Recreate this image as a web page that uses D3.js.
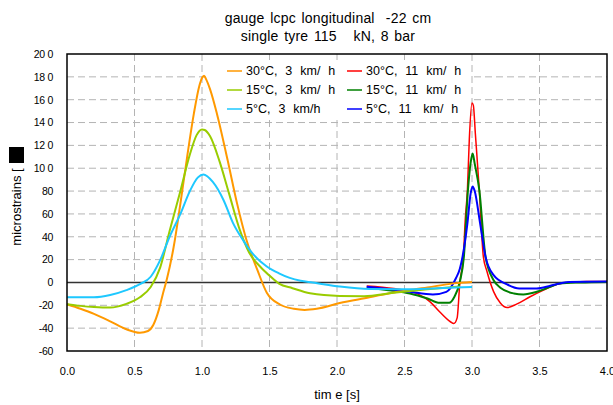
<!DOCTYPE html>
<html>
<head>
<meta charset="utf-8">
<script src="https://cdn.jsdelivr.net/npm/d3@7"></script>
<style>
  body { margin: 0; background: #fff; }
  svg { font-family: "Liberation Sans", Arial, sans-serif; }
  .grid line { stroke: #b4b4b4; stroke-width: 1; stroke-dasharray: 7,4; }
  .legend text { font-size: 12.5px; white-space: pre; word-spacing: 0.5px; }
</style>
</head>
<body>
<div id="chart"></div>
<script>
//---->DATA<-----//
const titleLines = ['gauge lcpc longitudinal  -22 cm', 'single tyre 115   kN, 8 bar'];
const xTicks = [0, 0.5, 1, 1.5, 2, 2.5, 3, 3.5, 4];
const xTickLabels = ['0.0', '0.5', '1.0', '1.5', '2.0', '2.5', '3.0', '3.5', '4.0'];
const yTicks = [-60, -40, -20, 0, 20, 40, 60, 80, 100, 120, 140, 160, 180, 200];
const yTickLabels = ['-60', '-40', '-20', '0', '20', '40', '60', '80', '10 0', '12 0', '14 0', '16 0', '18 0', '20 0'];

const seriesNames = ['30°C,  3  km/  h', '15°C,  3  km/  h', '5°C,  3  km/h',
                     '30°C,  11  km/  h', '15°C,  11  km/  h', '5°C,  11   km/  h'];
const seriesColors = ['#ff9900', '#99cc00', '#1ec8ff', '#ff0000', '#008000', '#0000ff'];

// [time s, microstrain]
const t30v3 = [[0,-19],[0.1,-23],[0.2,-27.5],[0.32,-34],[0.44,-41],[0.54,-44],[0.6,-42.5],[0.64,-37],
  [0.68,-24],[0.71,-10],[0.74,3],[0.79,31],[0.84,69],[0.89,110],[0.94,148],[0.98,172],[1.0,179],
  [1.015,181],[1.03,178],[1.06,169],[1.11,148],[1.19,107],[1.26,69],[1.33,37],[1.41,11],[1.48,-9],[1.58,-19.5],
  [1.68,-23],[1.76,-24],[1.85,-23],[2.02,-18],[2.24,-13],[2.42,-8.7],[2.67,-4.4],[2.86,-0.8],[3.0,0.5]];
const t15v3 = [[0,-19],[0.1,-20.5],[0.2,-21.5],[0.32,-22],[0.44,-18.7],[0.54,-13],[0.62,-4],[0.69,13],
  [0.76,45],[0.84,80],[0.91,112],[0.96,129],[1.0,134],[1.02,133.5],[1.06,128],[1.13,106],[1.2,78],
  [1.28,46],[1.35,26],[1.43,14],[1.5,6],[1.57,-1],[1.67,-5],[1.8,-9.5],[2.02,-11.8],[2.2,-12],
  [2.42,-9],[2.67,-6],[2.91,-3.5]];
const t5v3 = [[0,-13],[0.2,-13],[0.32,-11],[0.44,-6.7],[0.54,-1.5],[0.62,5],[0.69,19.5],[0.76,40],
  [0.84,60],[0.91,80],[0.97,92],[1.01,94.5],[1.08,88],[1.16,72],[1.23,52],[1.31,36],[1.38,24.5],
  [1.48,14],[1.57,8],[1.65,4],[1.73,1.5],[1.82,0],[2.02,-3.6],[2.24,-5.8],[2.5,-6],[2.75,-5],[3.0,-4]];
const t30v11 = [[2.22,-3],[2.42,-5.3],[2.59,-9.6],[2.69,-17],[2.76,-25.7],[2.84,-34.4],[2.865,-36],
  [2.89,-31],[2.91,0],[2.936,22.6],[2.95,55],[2.966,81],[2.98,125],[3.0,157],[3.01,155],[3.025,130],
  [3.054,81],[3.084,22.6],[3.11,10],[3.16,-8],[3.21,-18],[3.26,-22],[3.33,-19],[3.43,-12.5],
  [3.53,-6.7],[3.63,-1.7],[3.75,0.5],[3.85,0.8],[4.0,0.8]];
const t15v11 = [[2.22,-4.6],[2.4,-7],[2.54,-9.6],[2.67,-14],[2.76,-17.8],[2.83,-17.8],[2.87,-12.5],
  [2.91,0.6],[2.94,22.6],[2.97,81],[2.99,105],[3.005,113],[3.02,104],[3.054,81],[3.1,22.6],[3.16,2],
  [3.21,-4.6],[3.31,-9.6],[3.38,-10.5],[3.48,-8.2],[3.58,-3.8],[3.65,-1],[3.8,0],[4.0,0.5]];
const t5v11 = [[2.22,-3.8],[2.4,-6],[2.54,-8.2],[2.71,-10.5],[2.81,-8.2],[2.88,3.5],[2.91,12],
  [2.93,22.6],[2.966,51.8],[2.99,78],[3.005,84],[3.02,80],[3.06,51.8],[3.1,22.6],[3.16,6.4],
  [3.26,-1.7],[3.35,-5.3],[3.48,-5.3],[3.58,-2.9],[3.65,-0.9],[3.72,0.5],[4.0,0.9]];

const seriesData = [t30v3, t15v3, t5v3, t30v11, t15v11, t5v11];
const seriesWidth = [2, 2, 2, 1.5, 2, 2];
const drawOrder = [3, 4, 5, 0, 1, 2];

//---->LAYOUT<-----//
const outerW = 613, outerH = 405;
const margin = { left: 67, right: 6, top: 54, bottom: 54 };
const w = outerW - margin.left - margin.right;
const h = outerH - margin.top - margin.bottom;

const svg = d3.select('#chart').append('svg')
    .attr('width', outerW)
    .attr('height', outerH);

const x = d3.scaleLinear().domain([0, 4]).range([0, w]);
const y = d3.scaleLinear().domain([-60, 200]).range([h, 0]);

// Title
svg.selectAll('.title')
    .data(titleLines)
    .enter().append('text')
    .attr('class', 'title')
    .attr('x', 328)
    .attr('y', (d, i) => 23 + i * 18)
    .attr('text-anchor', 'middle')
    .style('font-size', '14px')
    .style('word-spacing', '1.5px')
    .style('letter-spacing', '0.2px')
    .style('white-space', 'pre')
    .text(d => d);

const g = svg.append('g')
    .attr('transform', 'translate(' + margin.left + ',' + margin.top + ')');

// Grid
g.append('g').attr('class', 'grid')
    .selectAll('line.v')
    .data(xTicks.slice(1, -1))
    .enter().append('line')
    .attr('x1', d => x(d)).attr('x2', d => x(d))
    .attr('y1', 0).attr('y2', h);

g.append('g').attr('class', 'grid')
    .selectAll('line.h')
    .data(yTicks.filter(d => d !== 0 && d !== -60 && d !== 200))
    .enter().append('line')
    .attr('x1', 0).attr('x2', w)
    .attr('y1', d => y(d)).attr('y2', d => y(d));

// Legend background sits under the curves
g.append('rect')
    .attr('x', 207 - margin.left).attr('y', 60 - margin.top)
    .attr('width', 263).attr('height', 58)
    .style('fill', '#fff');

// Zero line
g.append('line')
    .attr('x1', 0).attr('x2', w)
    .attr('y1', y(0)).attr('y2', y(0))
    .style('stroke', '#333')
    .style('stroke-width', 1.5);

// Axes
const xAxis = g.append('g')
    .attr('transform', 'translate(0,' + h + ')')
    .call(d3.axisBottom(x)
        .tickValues(xTicks)
        .tickSize(0)
        .tickPadding(16)
        .tickFormat((d, i) => xTickLabels[i]));
xAxis.select('.domain').remove();
xAxis.selectAll('text').style('font-size', '11px');

const yAxis = g.append('g')
    .attr('transform', 'translate(-14,0)')
    .call(d3.axisLeft(y)
        .tickValues(yTicks)
        .tickSize(0)
        .tickPadding(0)
        .tickFormat((d, i) => yTickLabels[i]));
yAxis.select('.domain').remove();
yAxis.selectAll('text').style('font-size', '10.5px').style('letter-spacing', '-0.3px');

// Series lines
const line = d3.line()
    .x(d => x(d[0]))
    .y(d => y(d[1]))
    .curve(d3.curveMonotoneX);

g.selectAll('.series')
    .data(drawOrder)
    .enter().append('path')
    .attr('class', 'series')
    .attr('d', i => line(seriesData[i]))
    .style('fill', 'none')
    .style('stroke', i => seriesColors[i])
    .style('stroke-width', i => seriesWidth[i])
    .style('stroke-linejoin', 'round');

// Frame
g.append('rect')
    .attr('width', w).attr('height', h)
    .style('fill', 'none')
    .style('stroke', '#000')
    .style('stroke-width', 1.5);

// Legend entries
const legend = svg.append('g').attr('class', 'legend');

const items = legend.selectAll('.item')
    .data(seriesNames)
    .enter().append('g')
    .attr('class', 'item')
    .attr('transform', (d, i) => 'translate(' + (227 + Math.floor(i / 3) * 120) + ',' + (71 + (i % 3) * 19) + ')');

items.append('line')
    .attr('x1', 0).attr('x2', 15)
    .style('stroke', (d, i) => seriesColors[i])
    .style('stroke-width', 1.5);

items.append('text')
    .attr('x', 19)
    .attr('dy', '0.35em')
    .text(d => d);

// Axis titles
svg.append('rect')
    .attr('x', 9).attr('y', 147)
    .attr('width', 15).attr('height', 16)
    .style('fill', '#000');

svg.append('text')
    .attr('transform', 'translate(21,207) rotate(-90)')
    .attr('text-anchor', 'middle')
    .style('font-size', '13px')
    .style('white-space', 'pre')
    .text('microstrains [');

svg.append('text')
    .attr('x', 337)
    .attr('y', 399)
    .attr('text-anchor', 'middle')
    .style('font-size', '13px')
    .style('white-space', 'pre')
    .text('tim e [s]');
</script>
</body>
</html>
